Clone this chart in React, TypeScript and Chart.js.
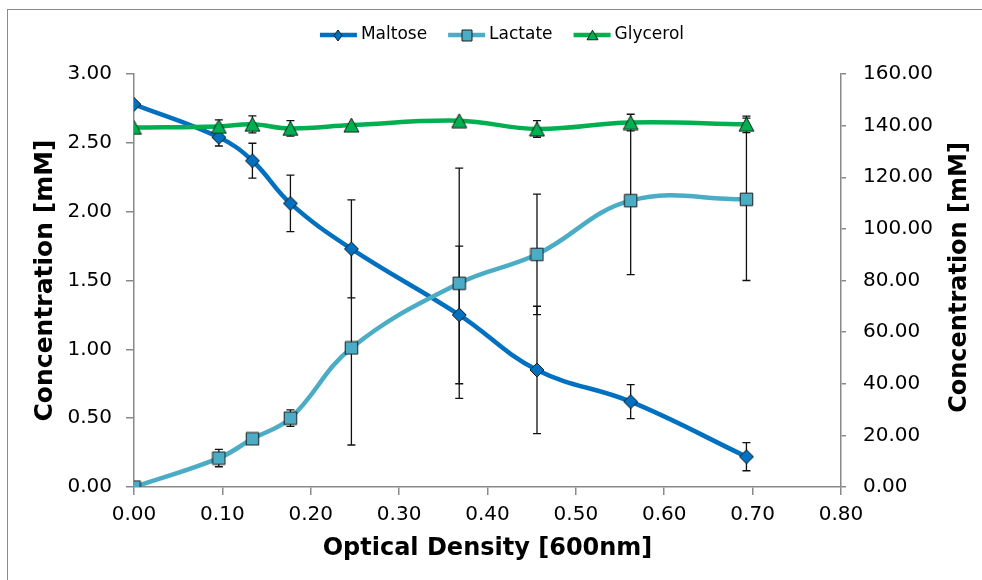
import React, { useEffect, useRef } from "react";
import { Chart, registerables } from "chart.js";

Chart.register(...registerables);

// ---------- data ----------
const seriesNames = ["Maltose", "Lactate", "Glycerol"];
const seriesColors = ["#0070C0", "#4BACC6", "#00B050"];
const opticalDensity = [0, 0.096, 0.134, 0.177, 0.246, 0.368, 0.456, 0.562, 0.693];
const maltose = [2.78, 2.54, 2.37, 2.06, 1.73, 1.25, 0.85, 0.62, 0.22];
const maltoseErr = [0, 0.063, 0.127, 0.205, 0.356, 0.5, 0.463, 0.124, 0.102];
const lactate = [0, 0.21, 0.35, 0.5, 1.01, 1.48, 1.69, 2.08, 2.09];
const lactateErr = [0, 0.063, 0, 0.06, 0.705, 0.836, 0.438, 0.538, 0.59];
const glycerol = [139.3, 139.7, 140.5, 138.9, 140.2, 141.9, 138.7, 141.2, 140.5];
const glycerolErr = [0, 2.5, 3.3, 3.0, 0, 0, 3.2, 3.2, 3.2];
const xTickStep = 0.1;
const yLeftTickStep = 0.5;
const yRightTickStep = 20;
const xTitle = "Optical Density [600nm]";
const yTitle = "Concentration [mM]";

const FONT = '"DejaVu Sans", Verdana, sans-serif';
const AXIS_COLOR = "#898989";
const MARKER_BORDER = "#1c1c1c";

type Shape = "diamond" | "square" | "triangle";

function makeMarker(shape: Shape, color: string, w: number, h: number): HTMLCanvasElement {
  const c = document.createElement("canvas");
  const cw = Math.ceil(w) + 2;
  const ch = Math.ceil(h) + 2;
  c.width = cw;
  c.height = ch;
  const g = c.getContext("2d")!;
  const cx = cw / 2;
  const cy = ch / 2;
  g.beginPath();
  if (shape === "diamond") {
    g.moveTo(cx, cy - h / 2);
    g.lineTo(cx + w / 2, cy);
    g.lineTo(cx, cy + h / 2);
    g.lineTo(cx - w / 2, cy);
  } else if (shape === "square") {
    g.rect(cx - w / 2, cy - h / 2, w, h);
  } else {
    g.moveTo(cx, cy - h / 2);
    g.lineTo(cx + w / 2, cy + h / 2);
    g.lineTo(cx - w / 2, cy + h / 2);
  }
  g.closePath();
  g.fillStyle = color;
  g.fill();
  g.lineWidth = 1;
  g.strokeStyle = MARKER_BORDER;
  g.stroke();
  return c;
}

const errorSets = [maltoseErr, lactateErr, glycerolErr];

const errorBarPlugin = {
  id: "errorBars",
  beforeDatasetsDraw(chart: any) {
    const ctx = chart.ctx as CanvasRenderingContext2D;
    const xs = chart.scales.x;
    ctx.save();
    ctx.strokeStyle = "#111";
    ctx.lineWidth = 1.3;
    chart.data.datasets.forEach((ds: any, i: number) => {
      const ys = chart.scales[ds.yAxisID];
      const errs = errorSets[i];
      ds.data.forEach((p: any, j: number) => {
        const e = errs[j];
        if (!e) return;
        const px = xs.getPixelForValue(p.x);
        const top = ys.getPixelForValue(p.y + e);
        const bot = ys.getPixelForValue(p.y - e);
        ctx.beginPath();
        ctx.moveTo(px, top);
        ctx.lineTo(px, bot);
        ctx.moveTo(px - 4, top);
        ctx.lineTo(px + 4, top);
        ctx.moveTo(px - 4, bot);
        ctx.lineTo(px + 4, bot);
        ctx.stroke();
      });
    });
    ctx.restore();
  },
};

// right-hand axis title, reading bottom-to-top like the left one
const rightTitlePlugin = {
  id: "rightTitle",
  afterDraw(chart: any) {
    const ctx = chart.ctx as CanvasRenderingContext2D;
    const s = chart.scales.y1;
    ctx.save();
    ctx.font = `bold 24px ${FONT}`;
    ctx.fillStyle = "#000";
    ctx.textAlign = "center";
    ctx.textBaseline = "middle";
    ctx.translate(s.right - 22, (s.top + s.bottom) / 2 - 3);
    ctx.rotate(-Math.PI / 2);
    ctx.fillText(yTitle, 0, 0);
    ctx.restore();
  },
};

const legendPlugin = {
  id: "lineLegend",
  afterDraw(chart: any) {
    const ctx = chart.ctx as CanvasRenderingContext2D;
    ctx.save();
    ctx.font = `17px ${FONT}`;
    const iconW = 37;
    const gapText = 4;
    const gapItem = 21;
    const widths = seriesNames.map((n) => ctx.measureText(n).width);
    const total =
      widths.reduce((a, w) => a + iconW + gapText + w, 0) + gapItem * (seriesNames.length - 1);
    let x = 502 - total / 2;
    const y = 35;
    const legendMarkers = [
      makeMarker("diamond", seriesColors[0], 8, 11),
      makeMarker("square", seriesColors[1], 10, 11),
      makeMarker("triangle", seriesColors[2], 11, 9.5),
    ];
    seriesNames.forEach((name, i) => {
      ctx.strokeStyle = seriesColors[i];
      ctx.lineWidth = 4.5;
      ctx.lineCap = "butt";
      ctx.beginPath();
      ctx.moveTo(x, y);
      ctx.lineTo(x + iconW, y);
      ctx.stroke();
      const m = legendMarkers[i];
      ctx.drawImage(m, Math.round(x + iconW / 2 - m.width / 2), Math.round(y - m.height / 2));
      ctx.fillStyle = "#000";
      ctx.textBaseline = "middle";
      ctx.textAlign = "left";
      ctx.fillText(name, x + iconW + gapText, y);
      x += iconW + gapText + widths[i] + gapItem;
    });
    ctx.restore();
  },
};

function toPoints(ys: number[]) {
  return opticalDensity.map((x, i) => ({ x, y: ys[i] }));
}

export default function App() {
  const ref = useRef<HTMLCanvasElement | null>(null);

  useEffect(() => {
    if (!ref.current) return;
    const markers = [
      makeMarker("diamond", seriesColors[0], 14, 14),
      makeMarker("square", seriesColors[1], 12.5, 12.5),
      makeMarker("triangle", seriesColors[2], 15, 14),
    ];
    const values = [maltose, lactate, glycerol];
    const axisIds = ["y", "y", "y1"];
    const orders = [3, 2, 1];
    const datasets = seriesNames.map((name, i) => ({
      label: name,
      data: toPoints(values[i]),
      yAxisID: axisIds[i],
      borderColor: seriesColors[i],
      backgroundColor: seriesColors[i],
      borderWidth: 4.5,
      tension: 0.4,
      pointStyle: markers[i] as any,
      pointRadius: 7,
      order: orders[i],
      fill: false,
    }));

    const tickFont = { family: FONT, size: 20 };
    const fmt = (v: any) => Number(v).toFixed(2);

    const chart = new Chart(ref.current, {
      type: "line",
      data: { datasets },
      options: {
        responsive: false,
        animation: false,
        events: [],
        layout: { padding: { top: 74, left: 0, right: 0, bottom: 0 } },
        plugins: {
          legend: { display: false },
          tooltip: { enabled: false },
        },
        scales: {
          x: {
            type: "linear",
            min: 0,
            max: 0.8,
            ticks: { stepSize: xTickStep, callback: fmt, font: tickFont, color: "#000", padding: 8 },
            grid: {
              drawOnChartArea: false,
              drawTicks: true,
              tickLength: 8,
              color: AXIS_COLOR,
              lineWidth: 1.5,
            },
            border: { display: true, color: AXIS_COLOR, width: 1.5 },
            title: {
              display: true,
              text: xTitle,
              font: { family: FONT, size: 24, weight: "bold" },
              color: "#000",
              padding: { top: 0, bottom: 16.6 },
            },
            afterFit: (s: any) => {
              s.height = 93;
            },
          },
          y: {
            type: "linear",
            position: "left",
            min: 0,
            max: 3,
            ticks: { stepSize: yLeftTickStep, callback: fmt, font: tickFont, color: "#000", padding: 14 },
            grid: {
              drawOnChartArea: false,
              drawTicks: true,
              tickLength: 8,
              color: AXIS_COLOR,
              lineWidth: 1.5,
            },
            border: { display: true, color: AXIS_COLOR, width: 1.5 },
            title: {
              display: true,
              text: yTitle,
              font: { family: FONT, size: 25, weight: "bold" },
              color: "#000",
              padding: { top: 30, bottom: 0 },
            },
            afterFit: (s: any) => {
              s.width = 134;
            },
          },
          y1: {
            type: "linear",
            position: "right",
            min: 0,
            max: 160,
            ticks: { stepSize: yRightTickStep, callback: fmt, font: tickFont, color: "#000", padding: 17 },
            grid: {
              drawOnChartArea: false,
              drawTicks: true,
              tickLength: 5,
              color: AXIS_COLOR,
              lineWidth: 1.5,
            },
            border: { display: true, color: AXIS_COLOR, width: 1.5 },
            title: { display: false, text: yTitle },
            afterFit: (s: any) => {
              s.width = 141;
            },
          },
        },
      } as any,
      plugins: [errorBarPlugin, legendPlugin, rightTitlePlugin],
    });
    return () => chart.destroy();
  }, []);

  return (
    <div
      style={{
        position: "fixed",
        left: 0,
        top: 0,
        width: 982,
        height: 580,
        background: "#fff",
        overflow: "hidden",
      }}
    >
      <div
        style={{
          position: "absolute",
          left: 7,
          top: 9,
          width: 1000,
          height: 600,
          borderLeft: "1px solid #8a8a8a",
          borderTop: "1px solid #8a8a8a",
        }}
      />
      <canvas
        ref={ref}
        width={982}
        height={580}
        style={{ position: "absolute", left: 0, top: 0, width: 982, height: 580 }}
      />
    </div>
  );
}
